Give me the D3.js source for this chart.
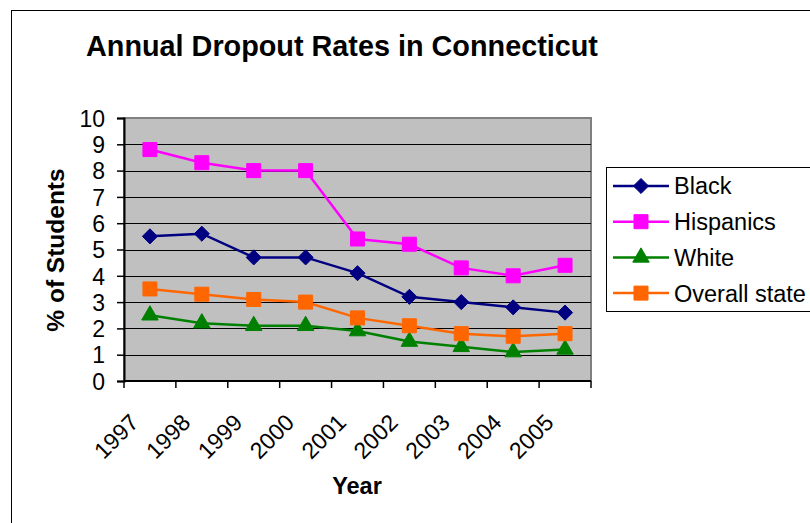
<!DOCTYPE html>
<html>
<head>
<meta charset="utf-8">
<script src="https://d3js.org/d3.v7.min.js"></script>
<style>
  body { margin: 0; background: #fff; }
  text { font-family: "Liberation Sans", Arial, sans-serif; fill: #000; }
</style>
</head>
<body>
<div id="chart"></div>
<script>
// data
var years = ["1997", "1998", "1999", "2000", "2001", "2002", "2003", "2004", "2005"];
var black = [5.5, 5.6, 4.7, 4.7, 4.1, 3.2, 3.0, 2.8, 2.6];
var hispanics = [8.8, 8.3, 8.0, 8.0, 5.4, 5.2, 4.3, 4.0, 4.4];
var white = [2.5, 2.2, 2.1, 2.1, 1.9, 1.5, 1.3, 1.1, 1.2];
var overall = [3.5, 3.3, 3.1, 3.0, 2.4, 2.1, 1.8, 1.7, 1.8];
var yTicks = [0, 1, 2, 3, 4, 5, 6, 7, 8, 9, 10];

var series = [
  { name: "Black", values: black, color: "#000080", shape: "diamond" },
  { name: "Hispanics", values: hispanics, color: "#FF00FF", shape: "square" },
  { name: "White", values: white, color: "#008000", shape: "triangle" },
  { name: "Overall state", values: overall, color: "#FF6600", shape: "square" },
];

var W = 810, H = 523;
// plot area
var plot = { left: 124, top: 118, right: 591, bottom: 381 };

var svg = d3
  .select("#chart")
  .append("svg")
  .attr("width", W)
  .attr("height", H);

// outer chart border
svg
  .append("rect")
  .attr("x", 11.5)
  .attr("y", 10.5)
  .attr("width", 1000)
  .attr("height", 1000)
  .style("fill", "#fff")
  .style("stroke", "#000")
  .style("stroke-width", 1);

var x = d3.scaleBand().domain(years).range([plot.left, plot.right]);
var y = d3.scaleLinear().domain([0, 10]).range([plot.bottom, plot.top]);

// gray plot background
svg
  .append("rect")
  .attr("x", plot.left)
  .attr("y", plot.top)
  .attr("width", plot.right - plot.left)
  .attr("height", plot.bottom - plot.top)
  .style("fill", "#C0C0C0")
  .style("stroke", "#808080")
  .style("stroke-width", 2);

// gridlines
svg
  .selectAll(".grid")
  .data(yTicks.slice(1, -1))
  .enter()
  .append("line")
  .attr("class", "grid")
  .attr("x1", plot.left)
  .attr("x2", plot.right)
  .attr("y1", function (d) { return Math.round(y(d)) + 0.5; })
  .attr("y2", function (d) { return Math.round(y(d)) + 0.5; })
  .style("stroke", "#000")
  .style("stroke-width", 1.2);

// y axis
var yAxis = svg
  .append("g")
  .attr("transform", "translate(" + plot.left + ",0)")
  .call(d3.axisLeft(y).tickValues(yTicks).tickSize(7).tickPadding(12));
yAxis.select(".domain").style("stroke", "#000").style("stroke-width", 2);
yAxis.selectAll("line").style("stroke", "#000").style("stroke-width", 1.5);
yAxis.selectAll("text")
  .style("font-size", "23px")
  .style("font-family", "Liberation Sans, Arial, sans-serif")
  .attr("dy", "0.36em");

// x axis: ticks on band boundaries
var xAxis = svg.append("g");
xAxis
  .append("line")
  .attr("x1", plot.left)
  .attr("x2", plot.right)
  .attr("y1", plot.bottom)
  .attr("y2", plot.bottom)
  .style("stroke", "#000")
  .style("stroke-width", 2);
xAxis
  .selectAll(".xtick")
  .data(years.concat(["end"]))
  .enter()
  .append("line")
  .attr("class", "xtick")
  .attr("x1", function (d) { return d == "end" ? plot.right : x(d); })
  .attr("x2", function (d) { return d == "end" ? plot.right : x(d); })
  .attr("y1", plot.bottom)
  .attr("y2", plot.bottom + 7)
  .style("stroke", "#000")
  .style("stroke-width", 1.5);
xAxis
  .selectAll(".xlabel")
  .data(years)
  .enter()
  .append("text")
  .attr("class", "xlabel")
  .attr("transform", function (d) {
    return "translate(" + (x(d) + x.bandwidth() / 2 - 10) + "," + 424 + ") rotate(-45)";
  })
  .style("text-anchor", "end")
  .style("font-size", "23px")
  .text(function (d) { return d; });

// lines and markers
var line = d3
  .line()
  .x(function (d, i) { return x(years[i]) + x.bandwidth() / 2; })
  .y(function (d) { return y(d); });

function markerPath(shape) {
  if (shape == "diamond") return d3.symbol().type(d3.symbolDiamond2).size(145)();
  if (shape == "triangle") return d3.symbol().type(d3.symbolTriangle2).size(195)();
  return d3.symbol().type(d3.symbolSquare2).size(250)();
}

series.forEach(function (s) {
  svg
    .append("path")
    .attr("d", line(s.values))
    .style("fill", "none")
    .style("stroke", s.color)
    .style("stroke-width", 2.5);
  svg
    .selectAll(".mk-" + s.shape + s.name.length)
    .data(s.values)
    .enter()
    .append("path")
    .attr("transform", function (d, i) {
      return "translate(" + (x(years[i]) + x.bandwidth() / 2) + "," + y(d) + ")";
    })
    .attr("d", markerPath(s.shape))
    .style("fill", s.color)
    .style("stroke", s.color)
    .style("stroke-width", 1);
});

// titles
svg
  .append("text")
  .attr("x", 86)
  .attr("y", 56)
  .style("font-size", "28.8px")
  .style("font-weight", "bold")
  .text("Annual Dropout Rates in Connecticut");
svg
  .append("text")
  .attr("transform", "translate(64,250) rotate(-90)")
  .style("text-anchor", "middle")
  .style("font-size", "24.5px")
  .style("font-weight", "bold")
  .text("% of Students");
svg
  .append("text")
  .attr("x", 357)
  .attr("y", 494)
  .style("text-anchor", "middle")
  .style("font-size", "23.5px")
  .style("font-weight", "bold")
  .text("Year");

// legend
var legend = svg.append("g");
legend
  .append("rect")
  .attr("x", 606.5)
  .attr("y", 167.5)
  .attr("width", 300)
  .attr("height", 144)
  .style("fill", "#fff")
  .style("stroke", "#000")
  .style("stroke-width", 1);
var item = legend
  .selectAll(".item")
  .data(series)
  .enter()
  .append("g")
  .attr("class", "item")
  .attr("transform", function (d, i) { return "translate(0," + (186 + i * 35.7) + ")"; });
item
  .append("line")
  .attr("x1", 613)
  .attr("x2", 669)
  .style("stroke", function (d) { return d.color; })
  .style("stroke-width", 2.5);
item
  .append("path")
  .attr("transform", "translate(641,0)")
  .attr("d", function (d) { return markerPath(d.shape); })
  .style("fill", function (d) { return d.color; })
  .style("stroke", function (d) { return d.color; });
item
  .append("text")
  .attr("x", 674)
  .attr("dy", "0.36em")
  .style("font-size", "23.5px")
  .text(function (d) { return d.name; });
</script>
</body>
</html>
